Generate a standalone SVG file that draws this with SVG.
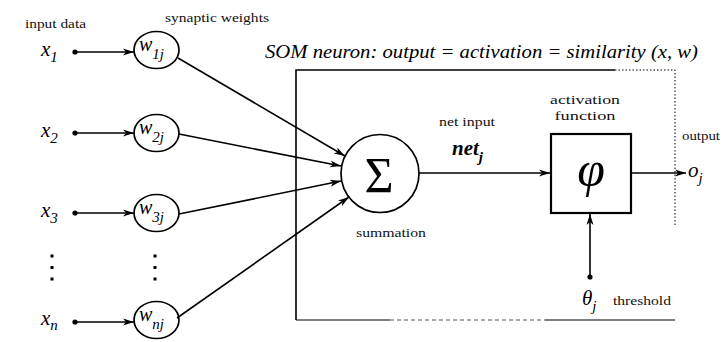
<svg xmlns="http://www.w3.org/2000/svg" width="723" height="342" viewBox="0 0 723 342">
<style>
text{font-family:"Liberation Serif","DejaVu Serif","Times New Roman",serif}
.lbl{font-size:13px;fill:#111}
.math{font-style:italic;fill:#000}
.ln{stroke:#000;stroke-width:1.6;fill:none}
.node{fill:#fff;stroke:#000;stroke-width:1.7}
</style>
<defs>
<marker id="ah" markerUnits="userSpaceOnUse" markerWidth="12" markerHeight="8" refX="11" refY="4" orient="auto">
<path d="M0,0.5 L11,4 L0,7.5 L3,4 z" fill="#000"/>
</marker>
</defs>
<rect width="723" height="342" fill="#fff"/>

<g id="som-box">
<path d="M296,320 L296,70 L615,70" class="ln" stroke-width="1.3"/>
<path d="M615,70 L675,70 L675,225" fill="none" stroke="#000" stroke-width="1" stroke-dasharray="1.5,2"/>
<path d="M296,320 L390,320" fill="none" stroke="#000" stroke-width="1.2"/>
<path d="M390,320 L545,320" fill="none" stroke="#555" stroke-width="1" stroke-dasharray="4,3"/>
<path d="M545,320 L675,320" fill="none" stroke="#000" stroke-width="1.2"/>
<text class="math" x="265" y="58" font-size="18" textLength="433" lengthAdjust="spacingAndGlyphs">SOM neuron: output = activation = similarity (x, w)</text>
</g>

<g id="labels">
<text class="lbl" x="25" y="28" textLength="61" lengthAdjust="spacingAndGlyphs">input data</text>
<text class="lbl" x="165" y="22" textLength="104" lengthAdjust="spacingAndGlyphs">synaptic weights</text>
</g>

<g id="x1"><circle cx="75" cy="52" r="2.6"/><text class="math" x="41" y="56" font-size="21">x<tspan font-size="15" dy="6">1</tspan></text></g>
<g id="x2"><circle cx="75" cy="133" r="2.6"/><text class="math" x="41" y="137" font-size="21">x<tspan font-size="15" dy="6">2</tspan></text></g>
<g id="x3"><circle cx="75" cy="213" r="2.6"/><text class="math" x="41" y="217" font-size="21">x<tspan font-size="15" dy="6">3</tspan></text></g>
<g id="xn"><circle cx="75" cy="322" r="2.6"/><text class="math" x="41" y="325" font-size="21">x<tspan font-size="15" dy="5">n</tspan></text></g>

<g id="dots-x"><rect x="50.5" y="254.5" width="3" height="3"/><rect x="50.5" y="266" width="3" height="3"/><rect x="50.5" y="277.5" width="3" height="3"/></g>
<g id="dots-w"><rect x="153.5" y="254.5" width="3" height="3"/><rect x="153.5" y="266" width="3" height="3"/><rect x="153.5" y="277.5" width="3" height="3"/></g>

<g id="w1j"><ellipse class="node" cx="156.5" cy="50" rx="22.5" ry="18.5"/><text class="math" x="139" y="51" font-size="20">w<tspan font-size="15" dy="8">1j</tspan></text></g>
<g id="w2j"><ellipse class="node" cx="156.5" cy="133" rx="22.5" ry="18.5"/><text class="math" x="139" y="134" font-size="20">w<tspan font-size="15" dy="8">2j</tspan></text></g>
<g id="w3j"><ellipse class="node" cx="156.5" cy="213" rx="22.5" ry="18.5"/><text class="math" x="139" y="214" font-size="20">w<tspan font-size="15" dy="8">3j</tspan></text></g>
<g id="wnj"><ellipse class="node" cx="156.5" cy="320" rx="22.5" ry="18.5"/><text class="math" x="139" y="321" font-size="20">w<tspan font-size="15" dy="8">nj</tspan></text></g>

<g id="sum">
<circle class="node" cx="380" cy="173.5" r="39"/>
<text x="379" y="192" font-size="50" text-anchor="middle">Σ</text>
<text class="lbl" x="356" y="237" textLength="70" lengthAdjust="spacingAndGlyphs">summation</text>
</g>

<g id="activation">
<rect x="551" y="134" width="80" height="79" fill="#fff" stroke="#000" stroke-width="2.2"/>
<text class="math" x="591" y="186" font-size="50" text-anchor="middle">φ</text>
<text class="lbl" x="585" y="104" text-anchor="middle" textLength="70" lengthAdjust="spacingAndGlyphs">activation</text>
<text class="lbl" x="585" y="120" text-anchor="middle" textLength="61" lengthAdjust="spacingAndGlyphs">function</text>
</g>

<g id="netlabel">
<text class="lbl" x="439" y="126" textLength="56" lengthAdjust="spacingAndGlyphs">net input</text>
<text class="math" x="452" y="155" font-size="21" font-weight="bold">net<tspan font-size="15" dy="7">j</tspan></text>
</g>

<g id="output">
<text class="lbl" x="682" y="140" textLength="38" lengthAdjust="spacingAndGlyphs">output</text>
<text class="math" x="688" y="177" font-size="21">o<tspan font-size="15" dy="6">j</tspan></text>
</g>

<g id="threshold">
<circle cx="590" cy="277" r="2.6"/>
<text class="math" x="582" y="305" font-size="21">θ<tspan font-size="15" dy="6">j</tspan></text>
<text class="lbl" x="613" y="305" textLength="58" lengthAdjust="spacingAndGlyphs">threshold</text>
</g>

<g id="connectors">
<line class="ln" x1="75" y1="52" x2="134" y2="52" marker-end="url(#ah)"/>
<line class="ln" x1="75" y1="133" x2="134" y2="133" marker-end="url(#ah)"/>
<line class="ln" x1="75" y1="213" x2="134" y2="213" marker-end="url(#ah)"/>
<line class="ln" x1="75" y1="322" x2="134" y2="322" marker-end="url(#ah)"/>
<line class="ln" x1="178" y1="58" x2="345" y2="156" marker-end="url(#ah)"/>
<line class="ln" x1="179" y1="134" x2="341" y2="166" marker-end="url(#ah)"/>
<line class="ln" x1="179" y1="214" x2="341" y2="181" marker-end="url(#ah)"/>
<line class="ln" x1="177" y1="318" x2="349" y2="197" marker-end="url(#ah)"/>
<line class="ln" x1="419" y1="173" x2="550" y2="173" marker-end="url(#ah)"/>
<line class="ln" x1="632" y1="173" x2="686" y2="173" marker-end="url(#ah)"/>
<line class="ln" x1="590" y1="277" x2="590" y2="214" marker-end="url(#ah)"/>
</g>
</svg>
